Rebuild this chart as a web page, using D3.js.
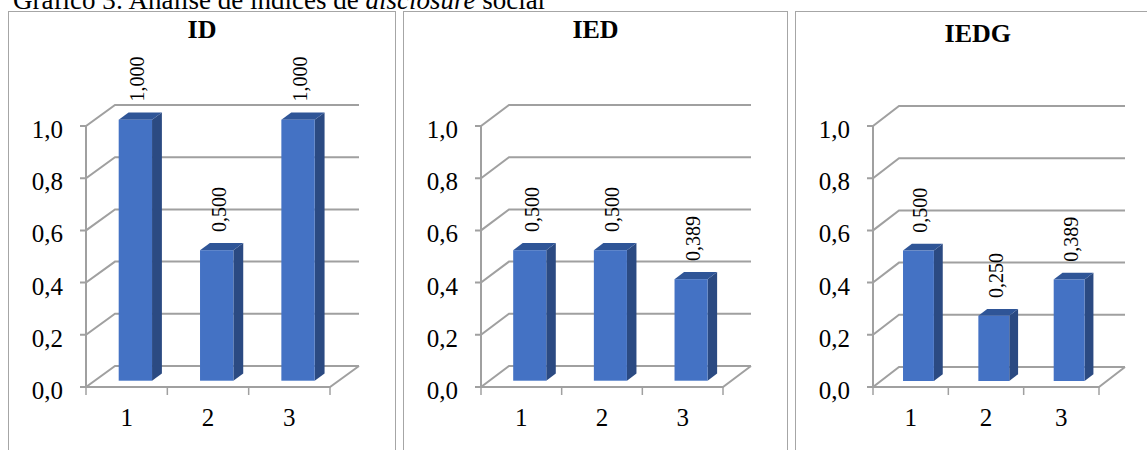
<!DOCTYPE html>
<html>
<head>
<meta charset="utf-8">
<script src="https://cdn.jsdelivr.net/npm/d3@7"></script>
<style>
  html, body { margin: 0; padding: 0; background: #fff; }
  svg { display: block; }
  text { font-family: "Liberation Serif", "Times New Roman", serif; fill: #000; }
</style>
</head>
<body>
<svg id="chart" width="1147" height="450"></svg>
<script>
// ---- data ----
const categories = ["1", "2", "3"];
const panelTitles = ["ID", "IED", "IEDG"];
const valuesID = [1.000, 0.500, 1.000];
const valuesIED = [0.500, 0.500, 0.389];
const valuesIEDG = [0.500, 0.250, 0.389];
const yTicks = [0, 0.2, 0.4, 0.6, 0.8, 1.0];
const titlePrefix = "Gráfico 3: Análise de índices de ";
const titleItalic = "disclosure";
const titleSuffix = " social";

const seriesList = [valuesID, valuesIED, valuesIEDG];

// ---- layout ----
const layouts = [
  { left: 8.5,   right: 395.5, axisX: 86,  floorW: 244, dx: 29, dy: -21, titleY: 38 },
  { left: 403.5, right: 787.5, axisX: 481, floorW: 242, dx: 28, dy: -21, titleY: 38 },
  { left: 795.5, right: 1160,  axisX: 873, floorW: 226, dx: 26, dy: -20, titleY: 42 }
];

const svg = d3.select("#chart");
const locale = d3.formatLocale({ decimal: ",", thousands: ".", grouping: [3], currency: ["", ""] });
const fmtTick = locale.format(".1f");
const fmtVal = locale.format(".3f");

// figure title (cropped at the top, as in the source)
const ft = svg.append("text").attr("x", 13).attr("y", 9).style("font-size", "27px");
ft.append("tspan").text(titlePrefix);
ft.append("tspan").style("font-style", "italic").text(titleItalic);
ft.append("tspan").text(titleSuffix);

const gridColor = "#a0a0a0";
const frontColor = "#4472c4", topColor = "#2f5597", sideColor = "#2b4a82";

layouts.forEach((L, pi) => {
  const vals = seriesList[pi];
  const g = svg.append("g");

  g.append("rect")
    .attr("x", L.left).attr("y", 11.5)
    .attr("width", L.right - L.left).attr("height", 460)
    .attr("fill", "#fff").attr("stroke", "#a6a6a6").attr("stroke-width", 1);

  g.append("text")
    .attr("x", (L.left + L.right) / 2).attr("y", L.titleY)
    .attr("text-anchor", "middle")
    .style("font-size", "26px").style("font-weight", "bold")
    .text(panelTitles[pi]);

  const y = d3.scaleLinear().domain([0, 1]).range([387, 126]);
  const x = d3.scaleBand().domain(categories).range([L.axisX, L.axisX + L.floorW]).padding(0);
  const bw = x.bandwidth() * 0.41;
  const f = 0.3;
  const fd = 0.34;

  yTicks.forEach(t => {
    const yy = y(t);
    g.append("path")
      .attr("d", `M${L.axisX - 6},${yy} L${L.axisX},${yy} L${L.axisX + L.dx},${yy + L.dy} L${L.axisX + L.dx + L.floorW},${yy + L.dy}`)
      .attr("fill", "none").attr("stroke", gridColor).attr("stroke-width", 2);
    g.append("text")
      .attr("x", L.axisX - 23).attr("y", yy + 12)
      .attr("text-anchor", "end")
      .style("font-size", "25px")
      .text(fmtTick(t));
  });

  const y0 = y(0);
  g.append("path")
    .attr("d", `M${L.axisX},${y0} L${L.axisX + L.floorW},${y0} L${L.axisX + L.floorW + L.dx},${y0 + L.dy}`)
    .attr("fill", "none").attr("stroke", gridColor).attr("stroke-width", 2);
  g.append("line")
    .attr("x1", L.axisX).attr("x2", L.axisX).attr("y1", y0).attr("y2", y(1))
    .attr("stroke", gridColor).attr("stroke-width", 2);
  const bounds = categories.map(c => x(c)).concat([L.axisX + L.floorW]);
  bounds.forEach(bx => {
    g.append("line")
      .attr("x1", bx).attr("x2", bx).attr("y1", y0).attr("y2", y0 + 8)
      .attr("stroke", gridColor).attr("stroke-width", 1.5);
  });
  categories.forEach(c => {
    g.append("text")
      .attr("x", x(c) + x.bandwidth() / 2).attr("y", 426)
      .attr("text-anchor", "middle")
      .style("font-size", "25px")
      .text(c);
  });

  const ox = f * L.dx, oy = f * L.dy;
  const ddx = fd * L.dx, ddy = fd * L.dy;
  categories.forEach((c, i) => {
    const v = vals[i];
    const x0 = x(c) + (x.bandwidth() - bw) / 2 + ox;
    const x1 = x0 + bw;
    const yb = y(0) + oy;
    const yt = y(v) + oy;
    g.append("path")
      .attr("d", `M${x1},${yb} L${x1 + ddx},${yb + ddy} L${x1 + ddx},${yt + ddy} L${x1},${yt} Z`)
      .attr("fill", sideColor);
    g.append("path")
      .attr("d", `M${x0},${yt} L${x0 + ddx},${yt + ddy} L${x1 + ddx},${yt + ddy} L${x1},${yt} Z`)
      .attr("fill", topColor);
    g.append("rect")
      .attr("x", x0).attr("y", yt).attr("width", bw).attr("height", yb - yt)
      .attr("fill", frontColor);
    const lx = x0 + bw / 2 + 2, ly = yt + ddy - 11;
    g.append("text")
      .attr("transform", `translate(${lx},${ly}) rotate(-90)`)
      .attr("text-anchor", "start")
      .attr("dominant-baseline", "central")
      .style("font-size", "20px")
      .text(fmtVal(v));
  });
});
</script>
</body>
</html>
